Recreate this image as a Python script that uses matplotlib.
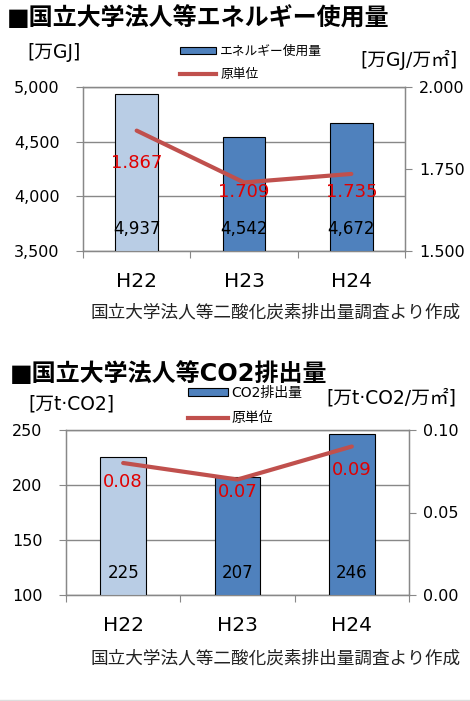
import matplotlib
matplotlib.use('Agg')
import matplotlib.pyplot as plt
from matplotlib.patches import Patch
from matplotlib.lines import Line2D
from matplotlib.ticker import FuncFormatter, FixedLocator

plt.rcParams['font.family'] = ['DejaVu Sans', 'Noto Sans CJK JP']

years = ['H22', 'H23', 'H24']
energy = [4937, 4542, 4672]
energy_unit = [1.867, 1.709, 1.735]
co2 = [225, 207, 246]
co2_unit = [0.08, 0.07, 0.09]
source = '国立大学法人等二酸化炭素排出量調査より作成'

bar_colors = ['#B9CDE5', '#4F81BD', '#4F81BD']
line_color = '#C0504D'
label_red = '#E00000'
grid_gray = '#888888'

fig = plt.figure(figsize=(4.7, 7.01), dpi=100)


def make_panel(rect, bars, unit, ylim, yticks, y2lim, y2ticks, y2fmt,
               unit_offsets, legend_name, legend_pos, legend_size):
    ax = fig.add_axes(rect)
    x = range(len(years))
    ax.bar(x, bars, width=0.4, color=bar_colors, edgecolor='black',
           linewidth=0.8, zorder=3)
    ax.set_xlim(-0.5, 2.5)
    ax.set_ylim(*ylim)
    ax.set_yticks(yticks)
    ax.yaxis.set_major_formatter(FuncFormatter(lambda v, p: f'{int(v):,}'))
    ax.grid(axis='y', color=grid_gray, linewidth=1, zorder=0)
    # category boundaries get the tick marks, centres get the labels
    ax.xaxis.set_major_locator(FixedLocator([-0.5, 0.5, 1.5, 2.5]))
    ax.xaxis.set_minor_locator(FixedLocator(list(x)))
    ax.set_xticklabels([])
    ax.set_xticklabels(years, minor=True)
    ax.tick_params(axis='x', which='major', length=5, color=grid_gray)
    ax.tick_params(axis='x', which='minor', length=0, pad=15, labelsize=14.5)
    ax.tick_params(axis='y', length=5, color=grid_gray, labelsize=11.5, pad=12)
    for s in ax.spines.values():
        s.set_color(grid_gray)
        s.set_linewidth(1)

    for i, v in enumerate(bars):
        ax.annotate(f'{v:,}', (i, ylim[0]), xytext=(0, 16),
                    textcoords='offset points', ha='center', va='center',
                    fontsize=12, zorder=6)

    ax2 = ax.twinx()
    ax2.plot(x, unit, color=line_color, linewidth=3, solid_capstyle='round',
             zorder=4)
    ax2.set_ylim(*y2lim)
    ax2.set_yticks(y2ticks)
    ax2.yaxis.set_major_formatter(FuncFormatter(lambda v, p: y2fmt % v))
    ax2.tick_params(axis='y', length=5, color=grid_gray, labelsize=11.5, pad=5)
    for s in ax2.spines.values():
        s.set_color(grid_gray)
    for i, v in enumerate(unit):
        ax2.annotate(y2fmt % v, (i, v), xytext=(0, -unit_offsets[i]),
                     textcoords='offset points', ha='center', va='center',
                     fontsize=13, color=label_red, zorder=6)

    handles = [Patch(facecolor='#4F81BD', edgecolor='black', linewidth=0.8),
               Line2D([], [], color=line_color, linewidth=3)]
    fig.legend(handles, [legend_name, '原単位'], loc='upper left',
               bbox_to_anchor=legend_pos, frameon=False, fontsize=legend_size,
               handlelength=2.85, handleheight=0.55, handletextpad=0.3,
               labelspacing=0.8, borderpad=0, borderaxespad=0)
    return ax, ax2


# エネルギー使用量
make_panel([83 / 470, 1 - 251 / 701, 322 / 470, 164 / 701],
           energy, energy_unit, (3500, 5000), [3500, 4000, 4500, 5000],
           (1.5, 2.0), [1.5, 1.75, 2.0], '%.3f', [23, 7, 13],
           'エネルギー使用量', (180 / 470, 1 - 45 / 701), 9.2)
fig.text(7 / 470, 1 - 18 / 701, '■国立大学法人等エネルギー使用量',
         fontsize=17.3, fontweight='bold', va='center', ha='left')
fig.text(27 / 470, 1 - 53 / 701, '[万GJ]', fontsize=13.5, va='center')
fig.text(458 / 470, 1 - 60 / 701, '[万GJ/万㎡]', fontsize=13.5,
         va='center', ha='right')
fig.text(461 / 470, 1 - 312 / 701, source, fontsize=12.7, va='center',
         ha='right', color='#222222')

# CO2排出量
make_panel([66 / 470, 1 - 595 / 701, 343 / 470, 165 / 701],
           co2, co2_unit, (100, 250), [100, 150, 200, 250],
           (0.0, 0.1), [0.0, 0.05, 0.1], '%.2f', [14, 9, 17],
           'CO2排出量', (188 / 470, 1 - 386 / 701), 10)
fig.text(10 / 470, 1 - 374 / 701, '■国立大学法人等CO2排出量',
         fontsize=17.3, fontweight='bold', va='center', ha='left')
fig.text(28 / 470, 1 - 404 / 701, '[万t·CO2]', fontsize=13.5, va='center')
fig.text(456 / 470, 1 - 398 / 701, '[万t·CO2/万㎡]', fontsize=13.5,
         va='center', ha='right')
fig.text(461 / 470, 1 - 658 / 701, source, fontsize=12.7, va='center',
         ha='right', color='#222222')

fig.add_artist(Line2D([0, 1], [1 / 701, 1 / 701], color='#DDDDDD',
                      linewidth=1, transform=fig.transFigure))

fig.savefig('out.png', dpi=100)
